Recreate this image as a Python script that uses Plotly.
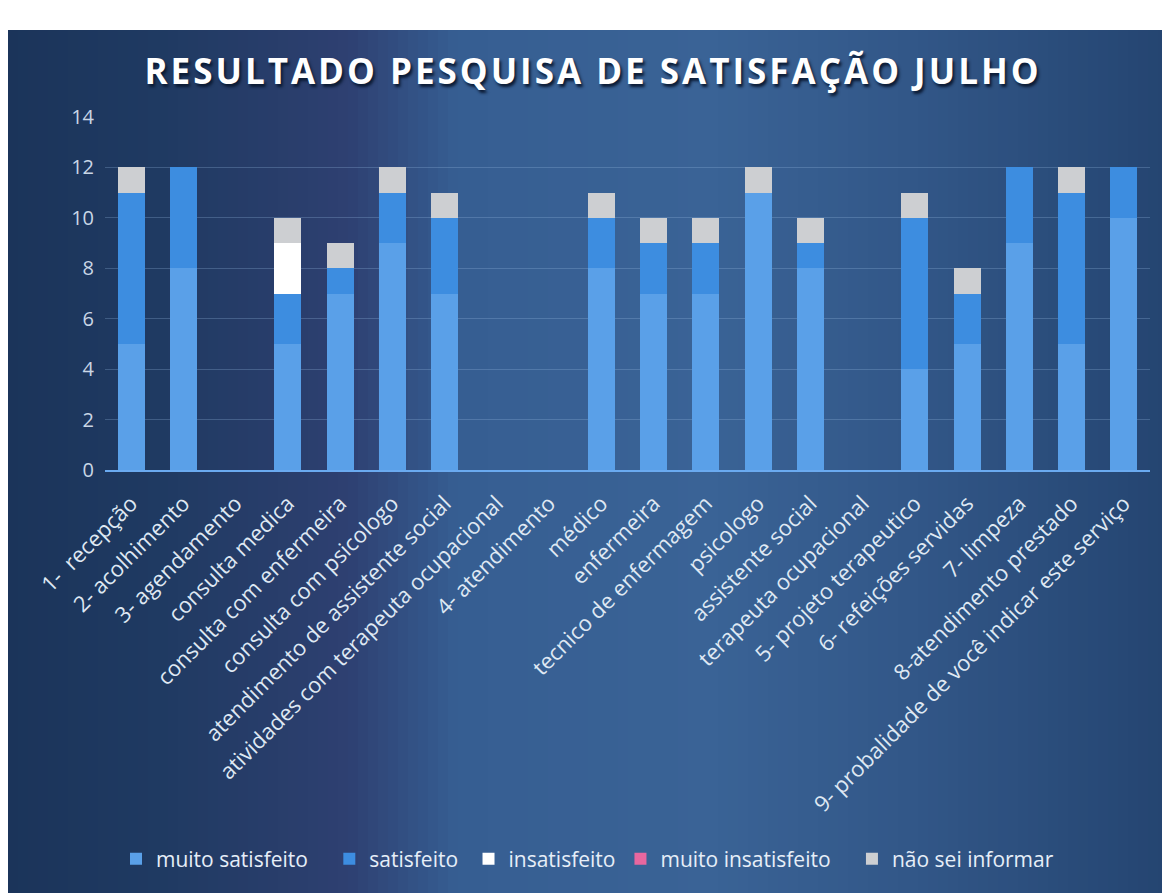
import plotly.graph_objects as go

categories = [
    "1-  recepção", "2- acolhimento", "3- agendamento", "consulta medica",
    "consulta com enfermeira", "consulta com psicologo",
    "atendimento de assistente social", "atividades com terapeuta ocupacional",
    "4- atendimento", "médico", "enfermeira", "tecnico de enfermagem",
    "psicologo", "assistente social", "terapeuta ocupacional",
    "5- projeto terapeutico", "6- refeições servidas", "7- limpeza",
    "8-atendimento prestado", "9- probalidade de você indicar este serviço",
]
muito_satisfeito = [5, 8, 0, 5, 7, 9, 7, 0, 0, 8, 7, 7, 11, 8, 0, 4, 5, 9, 5, 10]
satisfeito = [6, 4, 0, 2, 1, 2, 3, 0, 0, 2, 2, 2, 0, 1, 0, 6, 2, 3, 6, 2]
insatisfeito = [0, 0, 0, 2, 0, 0, 0, 0, 0, 0, 0, 0, 0, 0, 0, 0, 0, 0, 0, 0]
muito_insatisfeito = [0] * 20
nao_sei_informar = [1, 0, 0, 1, 1, 1, 1, 0, 0, 1, 1, 1, 1, 1, 0, 1, 1, 0, 1, 0]
y_ticks = [0, 2, 4, 6, 8, 10, 12, 14]

NB = "\u00a0"
series = [
    ("muito satisfeito", muito_satisfeito, "#5aa0e8", 3),
    ("satisfeito", satisfeito, "#3d8de0", 1),
    ("insatisfeito", insatisfeito, "#ffffff", 0),
    ("muito insatisfeito", muito_insatisfeito, "#e8679f", 3),
    ("não sei informar", nao_sei_informar, "#cdcfd2", 0),
]

fig = go.Figure()
for name, vals, col, pad in series:
    fig.add_trace(go.Bar(x=categories, y=vals, name=name + NB * pad, marker_color=col,
                         marker_line_width=0, hovertemplate=name + ": %{y}<extra></extra>"))

W, H = 1170, 893
L, R, T, B = 97, 28, 109, 431
pw, ph = W - L - R, H - T - B

# background gradient (horizontal), drawn as thin stripes in paper coords
stops = [(0, (27, 52, 90)), (150, (31, 58, 98)), (290, (42, 62, 108)),
         (340, (46, 64, 114)), (450, (54, 94, 146)), (700, (58, 99, 150)),
         (900, (50, 87, 136)), (1170, (36, 68, 112))]

def col_at(px):
    for (x0, c0), (x1, c1) in zip(stops[:-1], stops[1:]):
        if x0 <= px <= x1:
            t = (px - x0) / (x1 - x0)
            return "rgb(%d,%d,%d)" % tuple(round(a + (b - a) * t) for a, b in zip(c0, c1))
    return "rgb(%d,%d,%d)" % stops[-1][1]

shapes = []
step = 10
top_px = 22
for px in range(0, W, step):
    shapes.append(dict(type="rect", xref="paper", yref="paper",
                       x0=(px - L) / pw, x1=(px + step + 1 - L) / pw,
                       y0=(H - B - H) / ph, y1=(H - B - top_px) / ph,
                       fillcolor=col_at(px + step / 2), line_width=0, layer="below"))

fig.update_layout(
    width=W, height=H,
    margin=dict(l=L, r=R, t=T, b=B, autoexpand=False),
    paper_bgcolor="white",
    plot_bgcolor="rgba(0,0,0,0)",
    barmode="stack",
    bargap=0.48,
    shapes=shapes,
    font=dict(family="Open Sans, Lato, sans-serif", color="#dfe8f3"),
    title=dict(text='<span style="letter-spacing:3px">RESULTADO PESQUISA DE SATISFAÇÃO JULHO</span>',
               x=0.5, xanchor="center", y=1 - 64 / H, yanchor="middle",
               font=dict(size=35, color="white", weight="bold",
                         shadow="2px 3px 3px #0b1a33")),
    xaxis=dict(tickangle=-45, tickfont=dict(size=22, color="#dfe8f3"),
               showgrid=False, showline=True, linecolor="#6aaaf0", linewidth=2,
               ticks="", ticklabelstandoff=10),
    yaxis=dict(range=[0, 14], tickvals=y_ticks, tickfont=dict(size=20, color="#c9d6e6"),
               showgrid=True, gridcolor="rgba(150,185,225,0.28)", gridwidth=1,
               zeroline=False, showline=False, ticklabelstandoff=10),
    legend=dict(orientation="h", x=0.5 - 40 / pw, xanchor="center", y=-(851 - (H - B)) / ph,
                yanchor="middle",
                font=dict(size=21, color="#e6eef8"), bgcolor="rgba(0,0,0,0)",
                itemwidth=30, traceorder="normal"),
)

fig.write_html("out.html")
